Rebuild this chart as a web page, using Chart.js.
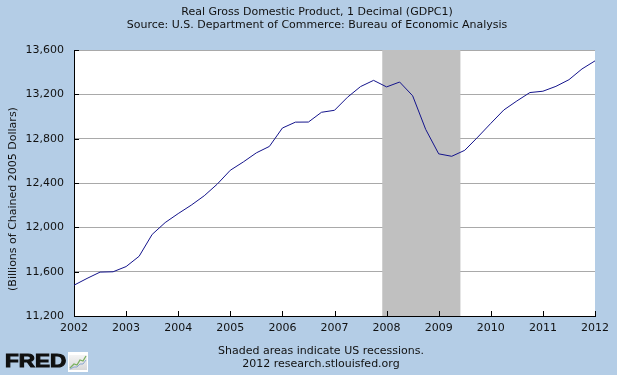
<!DOCTYPE html>
<html>
<head>
<meta charset="utf-8">
<script src="https://cdn.jsdelivr.net/npm/chart.js@4/dist/chart.umd.min.js"></script>
<style>
  body { margin: 0; background: #b4cde6; }
  #wrap { position: relative; width: 617px; height: 375px; background: #b4cde6; font-family: "DejaVu Sans", Verdana, sans-serif; color: #111; }
  canvas { position: absolute; left: 0; top: 0; }
  .txt { position: absolute; font-size: 11px; line-height: 13px; text-align: center; white-space: nowrap; }
  #ytitle { left: -117px; top: 192px; width: 260px; transform: rotate(-90deg); transform-origin: 130px 7px; }
  #logo { position: absolute; left: 5px; top: 352px; font-family: "Liberation Sans", Arial, sans-serif; font-weight: bold; font-size: 18px; color: #111; line-height: 18px; transform: scaleX(1.25); transform-origin: 0 0; -webkit-text-stroke: 1px #111; }
  #icon { position: absolute; left: 68px; top: 352px; }
</style>
</head>
<body>
<div id="wrap">
  <canvas id="gdp-chart" width="617" height="375"></canvas>
  <div class="txt" style="left:0; width:634px; top:5px;">Real Gross Domestic Product, 1 Decimal (GDPC1)</div>
  <div class="txt" style="left:0; width:634px; top:18px;">Source: U.S. Department of Commerce: Bureau of Economic Analysis</div>
  <div class="txt" id="ytitle">(Billions of Chained 2005 Dollars)</div>
  <div class="txt" style="left:0; width:642px; top:344px;">Shaded areas indicate US recessions.</div>
  <div class="txt" style="left:0; width:642px; top:357px;">2012 research.stlouisfed.org</div>
  <div id="logo">FRED</div>
  <svg id="icon" width="20" height="20">
    <defs><linearGradient id="g" x1="0" y1="0" x2="0" y2="1"><stop offset="0" stop-color="#f4f4f4"/><stop offset="1" stop-color="#d8d8d8"/></linearGradient></defs>
    <rect x="0" y="0" width="20" height="20" fill="#ffffff"/>
    <rect x="1" y="3" width="18" height="15" fill="url(#g)"/>
    <polyline points="2,16 6,12 9,13 12,8 15,9 18,4" fill="none" stroke="#7ab060" stroke-width="1.3"/>
    <polyline points="2,17 6,15 9,15 12,12 15,12 18,8" fill="none" stroke="#8aa6d0" stroke-width="1"/>
  </svg>
</div>
<script>
// quarterly dates (FRED uses start of quarter)
const quarters = [
  "2002-01-01","2002-04-01","2002-07-01","2002-10-01",
  "2003-01-01","2003-04-01","2003-07-01","2003-10-01",
  "2004-01-01","2004-04-01","2004-07-01","2004-10-01",
  "2005-01-01","2005-04-01","2005-07-01","2005-10-01",
  "2006-01-01","2006-04-01","2006-07-01","2006-10-01",
  "2007-01-01","2007-04-01","2007-07-01","2007-10-01",
  "2008-01-01","2008-04-01","2008-07-01","2008-10-01",
  "2009-01-01","2009-04-01","2009-07-01","2009-10-01",
  "2010-01-01","2010-04-01","2010-07-01","2010-10-01",
  "2011-01-01","2011-04-01","2011-07-01","2011-10-01",
  "2012-01-01"
]

// real GDP, billions of chained 2005 dollars
const gdp = [
  11478, 11539, 11596, 11599,
  11646, 11739, 11936, 12043,
  12124, 12200, 12285, 12390,
  12515, 12590, 12672, 12730,
  12896, 12949, 12950, 13038,
  13056, 13174, 13270, 13326,
  13267, 13311, 13187, 12884,
  12663, 12641, 12695, 12814,
  12938, 13059, 13140, 13216,
  13228, 13272, 13332, 13429,
  13502
]

// recession: Dec 2007 - Jun 2009, in decimal years
const recessionStart = 2007 + 11 / 12
const recessionEnd = 2009 + 5 / 12

const yearTicks = [2002, 2012]
const valueTicks = [11200, 13600]

function toYear(d) {
  let parts = d.split("-")
  return Number(parts[0]) + (Number(parts[1]) - 1) / 12
}

let points = []
for (let i = 0; i < quarters.length; i++) {
  points.push({ x: toYear(quarters[i]), y: gdp[i] })
}

// white plot background + recession shading under the line
const shading = {
  id: "shading",
  beforeDraw(chart) {
    let a = chart.chartArea
    let ctx = chart.ctx
    ctx.save()
    ctx.fillStyle = "#ffffff"
    ctx.fillRect(a.left, a.top, a.right - a.left, a.bottom - a.top)
    ctx.restore()
  },
  beforeDatasetsDraw(chart) {
    let a = chart.chartArea
    let x = chart.scales.x
    let ctx = chart.ctx
    let x0 = x.getPixelForValue(recessionStart)
    let x1 = x.getPixelForValue(recessionEnd)
    ctx.save()
    ctx.fillStyle = "#c0c0c0"
    ctx.fillRect(x0, a.top, x1 - x0, a.bottom - a.top)
    ctx.restore()
  },
  // tick marks pointing into the plot
  afterDraw(chart) {
    let a = chart.chartArea
    let ctx = chart.ctx
    ctx.save()
    ctx.strokeStyle = "#000"
    ctx.lineWidth = 1
    ctx.beginPath()
    chart.scales.y.ticks.forEach(t => {
      let py = Math.round(chart.scales.y.getPixelForValue(t.value)) + 0.5
      ctx.moveTo(a.left, py)
      ctx.lineTo(a.left + 5, py)
    })
    chart.scales.x.ticks.forEach(t => {
      let px = Math.round(chart.scales.x.getPixelForValue(t.value)) + 0.5
      ctx.moveTo(px, a.bottom)
      ctx.lineTo(px, a.bottom - 5)
    })
    ctx.stroke()
    ctx.restore()
  }
}

new Chart(document.getElementById("gdp-chart"), {
  type: "line",
  data: {
    datasets: [{
      data: points,
      borderColor: "#14148c",
      borderWidth: 1,
      pointRadius: 0,
      tension: 0,
      fill: false
    }]
  },
  options: {
    responsive: false,
    animation: false,
    devicePixelRatio: 1,
    layout: { padding: { left: 0, top: 50, right: 22, bottom: 39 } },
    plugins: { legend: { display: false }, tooltip: { enabled: false } },
    scales: {
      x: {
        type: "linear",
        min: yearTicks[0],
        max: yearTicks[1],
        z: 1,
        afterFit(scale) { scale.height = 20 },
        grid: { display: false, drawTicks: false },
        border: { display: true, color: "#000", width: 1 },
        ticks: {
          stepSize: 1,
          padding: 6,
          maxRotation: 0,
          color: "#111",
          font: { family: "DejaVu Sans", size: 11 },
          callback: v => String(v)
        }
      },
      y: {
        min: valueTicks[0],
        max: valueTicks[1],
        afterFit(scale) { scale.width = 74 },
        grid: { color: "#a9a9a9", lineWidth: 1, drawTicks: false },
        border: { display: true, color: "#000", width: 1 },
        ticks: {
          stepSize: 400,
          padding: 10,
          color: "#111",
          font: { family: "DejaVu Sans", size: 11 },
          callback: v => v.toLocaleString("en-US")
        }
      }
    }
  },
  plugins: [shading]
})
</script>
</body>
</html>
